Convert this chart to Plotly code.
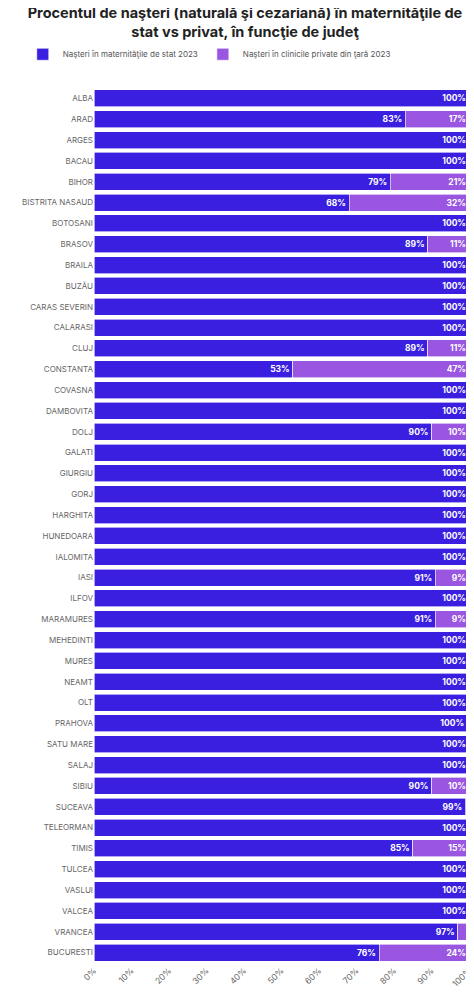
import plotly.graph_objects as go

counties = ["ALBA","ARAD","ARGES","BACAU","BIHOR","BISTRITA NASAUD","BOTOSANI","BRASOV","BRAILA","BUZĂU",
"CARAS SEVERIN","CALARASI","CLUJ","CONSTANTA","COVASNA","DAMBOVITA","DOLJ","GALATI","GIURGIU","GORJ",
"HARGHITA","HUNEDOARA","IALOMITA","IASI","ILFOV","MARAMURES","MEHEDINTI","MURES","NEAMT","OLT",
"PRAHOVA","SATU MARE","SALAJ","SIBIU","SUCEAVA","TELEORMAN","TIMIS","TULCEA","VASLUI","VALCEA",
"VRANCEA","BUCURESTI"]
private = [0,17,0,0,21,32,0,11,0,0, 0,0,11,47,0,0,10,0,0,0, 0,0,0,9,0,9,0,0,0,0,
           0.5,0,0,10,1,0,15,0,0,0, 3,24]
state = [100 - p for p in private]
state_txt = [f"<b>{round(s)}%</b>" for s in state]
priv_txt = [f"<b>{round(p)}%</b>" if p >= 5 else "" for p in private]

fig = go.Figure()
fig.add_bar(y=counties, x=state, orientation="h", name="Naşteri în maternităţile de stat 2023",
            marker=dict(color="#3a1fe0", line=dict(width=0.6, color="white")),
            text=state_txt, textposition="inside", insidetextanchor="end",
            textfont=dict(color="white", size=8.5, family="Inter"), hoverinfo="skip")
fig.add_bar(y=counties, x=private, orientation="h", name="Naşteri în clinicile private din ţară 2023",
            marker=dict(color="#9a56e0", line=dict(width=0.6, color="white")),
            text=priv_txt, textposition="inside", insidetextanchor="end",
            textfont=dict(color="white", size=8.5, family="Inter"), hoverinfo="skip")
fig.update_layout(
    width=474, height=993, barmode="stack", bargap=0.18,
    plot_bgcolor="white", paper_bgcolor="white",
    margin=dict(l=86, r=13, t=80, b=38),
    font=dict(family="Inter", color="#555"),
    title=dict(text="<b>Procentul de naşteri (naturală şi cezariană) în maternităţile de<br>stat vs privat, în funcţie de judeţ</b>",
               x=0.5, xanchor="center", y=0.99, yanchor="top", font=dict(size=14.5, color="#222")),
    legend=dict(orientation="h", x=-0.19, xanchor="left", y=1.022, yanchor="bottom",
                font=dict(size=8, color="#555"), traceorder="normal", itemwidth=30),
    uniformtext=dict(mode="show", minsize=8),
)
fig.update_yaxes(autorange="reversed", tickfont=dict(size=8, color="#666"), ticks="", showgrid=False, automargin=False)
fig.update_xaxes(range=[0, 100], tickvals=list(range(0, 101, 10)), ticktext=[f"{v}%" for v in range(0, 101, 10)],
                 tickangle=-45, tickfont=dict(size=8.5, color="#666"), showgrid=False, zeroline=False, automargin=False)
fig.write_html("out.html")
